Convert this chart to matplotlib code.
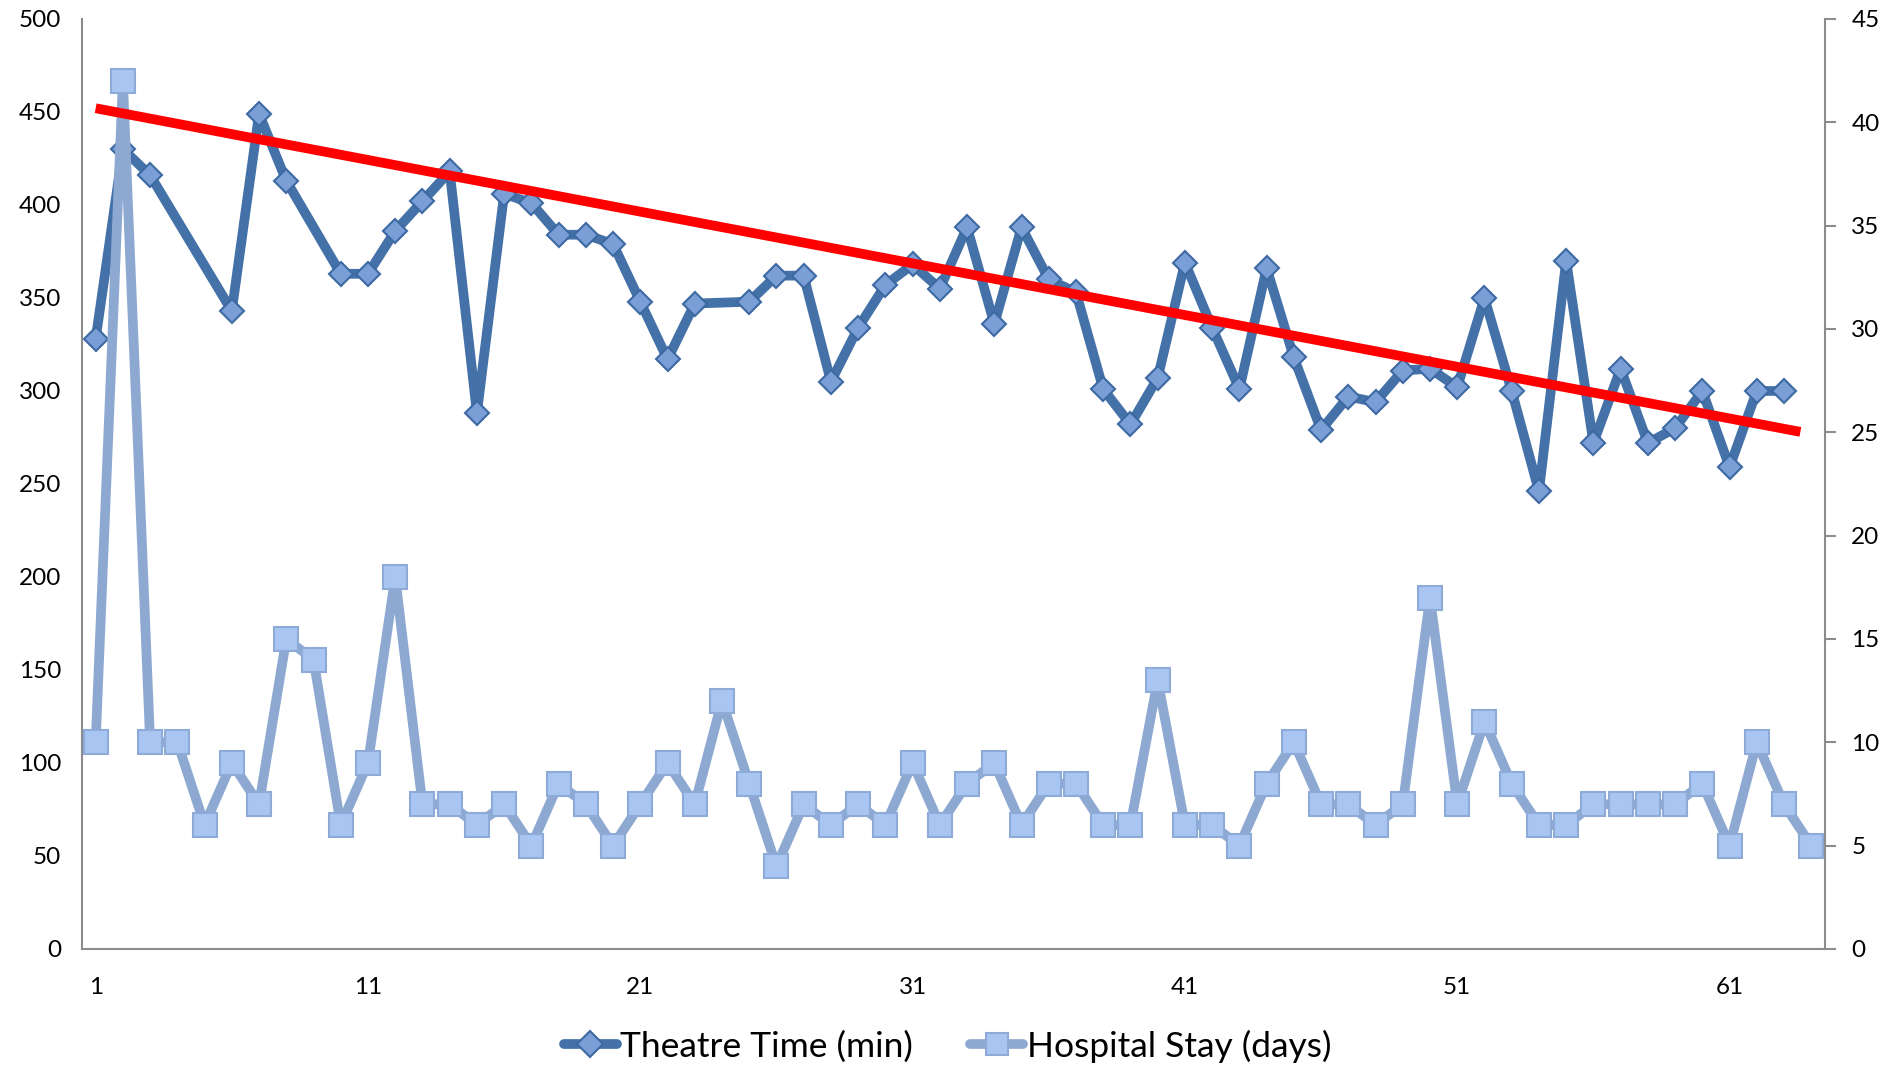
import numpy as np
import matplotlib
matplotlib.use("Agg")
import matplotlib.pyplot as plt
from matplotlib.lines import Line2D

# ---------------- data ----------------
cases = np.arange(1, 65)
theatre_time = [328, 430, 416, np.nan, np.nan, 343, 449, 413, np.nan, 363,
                363, 386, 402, 418, 288, 406, 401, 384, 384, 379,
                348, 317, 347, np.nan, 348, 362, 362, 305, 334, 357,
                368, 355, 388, 336, 388, 360, 353, 301, 282, 307,
                369, 334, 301, 366, 318, 279, 297, 294, 311, 312,
                302, 350, 300, 246, 370, 272, 312, 272, 280, 300,
                259, 300, 300, np.nan]
hospital_stay = [10, 42, 10, 10, 6, 9, 7, 15, 14, 6,
                 9, 18, 7, 7, 6, 7, 5, 8, 7, 5,
                 7, 9, 7, 12, 8, 4, 7, 6, 7, 6,
                 9, 6, 8, 9, 6, 8, 8, 6, 6, 13,
                 6, 6, 5, 8, 10, 7, 7, 6, 7, 17,
                 7, 11, 8, 6, 6, 7, 7, 7, 7, 8,
                 5, 10, 7, 5]
trend_cases = [1, 63.6]
trend_minutes = [452, 278]
x_tick_labels = [1, 11, 21, 31, 41, 51, 61]
left_ticks = [0, 50, 100, 150, 200, 250, 300, 350, 400, 450, 500]
right_ticks = [0, 5, 10, 15, 20, 25, 30, 35, 40, 45]
series_names = ["Theatre Time (min)", "Hospital Stay (days)"]

# ---------------- style ----------------
plt.rcParams["font.family"] = ["Lato", "DejaVu Sans"]
dark_line = "#4471a7"
dark_face = "#7a9fd6"
dark_edge = "#3d69a3"
light_line = "#8ea9d1"
light_face = "#a9c5f2"
light_edge = "#8eaad6"
spine_c = "#8c8c8c"

fig = plt.figure(figsize=(18.95, 10.66), dpi=100)
ax = fig.add_axes([0.0433, 0.1098, 0.9197, 0.8724])
ax2 = ax.twinx()

th = np.array(theatre_time, dtype=float)
valid = ~np.isnan(th)
ax.plot(cases[valid], th[valid], color=dark_line, lw=7, solid_joinstyle="round",
        marker="D", ms=12, mfc=dark_face, mec=dark_edge, mew=1.5, zorder=3)

ax2.plot(cases, hospital_stay, color=light_line, lw=7, solid_joinstyle="round",
         marker="s", ms=17, mfc=light_face, mec=light_edge, mew=1.5, zorder=3)

# trend line (drawn in primary-axis units, on top of everything)
ax2.plot(trend_cases, trend_minutes, color="#ff0000", lw=7, solid_capstyle="butt",
         transform=ax.transData, zorder=5)

ax.set_xlim(0.5, 64.5)
ax.set_ylim(0, 500)
ax2.set_ylim(0, 45)
ax.set_xticks(x_tick_labels)
ax.set_xticklabels([str(v) for v in x_tick_labels])
ax.set_yticks(left_ticks)
ax2.set_yticks(right_ticks)

for a in (ax, ax2):
    for s in a.spines.values():
        s.set_color(spine_c)
        s.set_linewidth(1.5)
    a.spines["top"].set_visible(False)
ax.spines["right"].set_visible(False)
ax2.spines["left"].set_visible(False)
ax2.spines["bottom"].set_visible(False)

ax.tick_params(axis="x", length=0, pad=20, labelsize=17.5)
ax.tick_params(axis="y", length=0, pad=15, labelsize=17.5)
ax2.tick_params(axis="y", length=8, width=1.5, color=spine_c, pad=11, labelsize=17.5)

handles = [
    Line2D([], [], color=dark_line, lw=7, solid_capstyle="round", marker="D", ms=13,
           mfc=dark_face, mec=dark_edge, mew=1.5),
    Line2D([], [], color=light_line, lw=7, solid_capstyle="round", marker="s", ms=16,
           mfc=light_face, mec=light_edge, mew=1.5),
]
fig.legend(handles, series_names, loc="center", bbox_to_anchor=(0.5, 1 - 1046 / 1066),
           ncol=2, frameon=False, fontsize=25.5, handlelength=1.5, handletextpad=0.1,
           columnspacing=1.6)

fig.savefig("out.png", dpi=100)
